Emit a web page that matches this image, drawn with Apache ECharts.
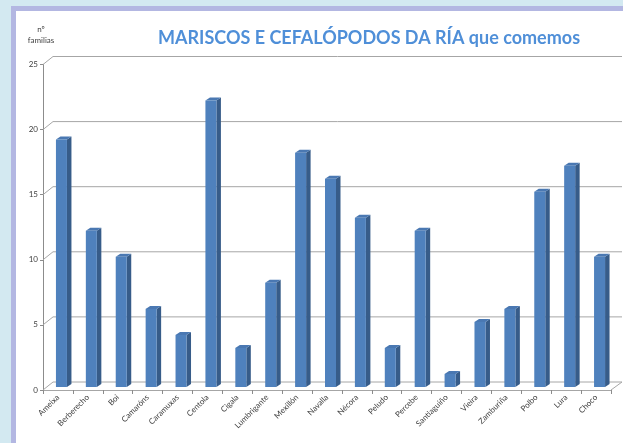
<!DOCTYPE html>
<html>
<head>
<meta charset="utf-8">
<script src="https://cdn.jsdelivr.net/npm/echarts@6/dist/echarts.min.js"></script>
<style>
  html, body { margin:0; padding:0; width:623px; height:443px; overflow:hidden; background:#d3e9f1; }
  #frame { position:absolute; left:11px; top:6px; width:612px; height:437px; background:#b3b7e2; }
  #inner { position:absolute; left:16px; top:11px; width:607px; height:432px; background:#ffffff; }
  #chart { position:absolute; left:0; top:0; width:623px; height:443px; }
</style>
</head>
<body>
<div id="frame"></div>
<div id="inner"></div>
<div id="chart"></div>
<script>
const categories = ["Ameixa","Berberecho","Boi","Camaróns","Caramuxas","Centola","Cigala","Lumbrigante","Mexillón","Navalla","Nécora","Peludo","Percebe","Santiaguiño","Vieira","Zamburiña","Polbo","Lura","Choco"];
const values = [19,12,10,6,4,22,3,8,18,16,13,3,12,1,5,6,15,17,10];
const yTicks = [0,5,10,15,20,25];
const titleText = "MARISCOS E CEFALÓPODOS DA RÍA que comemos";
const yAxisName = "nº\nfamilias";

const FONT = "Lato, 'Open Sans', sans-serif";
const chart = echarts.init(document.getElementById('chart'), null, {renderer:'canvas'});

const DEPTH_X = 10, DEPTH_Y = -8;

function renderGrid(params, api) {
  const cs = params.coordSys;
  const v = api.value(1);
  const y = api.coord([0, v])[1];
  const left = cs.x, right = cs.x + cs.width;
  const children = [{
    type:'polyline',
    shape:{points:[[left, y],[left+DEPTH_X, y+DEPTH_Y],[right+DEPTH_X+1, y+DEPTH_Y]]},
    style:{stroke:'#a6a6a6', lineWidth:1, fill:null}
  }];
  if (v === 0) {
    children.push({
      type:'line',
      shape:{x1:right, y1:y, x2:right+DEPTH_X+1, y2:y+DEPTH_Y},
      style:{stroke:'#a6a6a6', lineWidth:1}
    });
  }
  return {type:'group', children};
}

function renderBar(params, api) {
  const idx = api.value(0);
  const v = api.value(1);
  const base = api.coord([idx, 0]);
  const top = api.coord([idx, v]);
  const w = 11, sx = 4.5, sy = -3, off = -3;
  const x = base[0] - 2;
  const yb = base[1] + off;
  const yt = top[1] + off;
  return {
    type:'group',
    children:[
      {type:'polygon', shape:{points:[[x+w, yt],[x+w+sx, yt+sy],[x+w+sx, yb+sy],[x+w, yb]]}, style:{fill:'#375c89'}},
      {type:'polygon', shape:{points:[[x, yt],[x+sx, yt+sy],[x+w+sx, yt+sy],[x+w, yt]]}, style:{fill:'#4a78b2'}},
      {type:'rect', shape:{x:x, y:yt, width:w, height:yb-yt}, style:{fill:'#4f81bd'}}
    ]
  };
}

const option = {
  animation:false,
  backgroundColor:'transparent',
  title:[{
    text: titleText,
    left: 364, top: 24, textAlign:'center',
    textStyle:{fontFamily:FONT, fontSize:18, fontWeight:'bold', color:'#4f8fd8'}
  },{
    text: yAxisName,
    left: 36, top: 19, textAlign:'center',
    textStyle:{fontFamily:FONT, fontSize:8, fontWeight:'normal', color:'#404040', lineHeight:11, align:'center'}
  }],
  grid:{left:43, right:12, top:64.5, bottom:53, containLabel:false},
  xAxis:{
    type:'category',
    data: categories,
    boundaryGap:true,
    axisLine:{show:true, lineStyle:{color:'#a6a6a6', width:1}},
    axisTick:{show:true, length:4, alignWithLabel:false, lineStyle:{color:'#8c8c8c'}},
    axisLabel:{rotate:45, interval:0, margin:6, fontFamily:FONT, fontSize:8, color:'#404040'}
  },
  yAxis:{
    type:'value', min:0, max:25, interval:5,
    axisLine:{show:true, lineStyle:{color:'#8c8c8c', width:1}},
    axisTick:{show:true, length:3, lineStyle:{color:'#8c8c8c'}},
    axisLabel:{margin:5, fontFamily:FONT, fontSize:8, color:'#404040'},
    splitLine:{show:false}
  },
  series:[
    {
      type:'custom', name:'grid', z:1, clip:false, silent:true,
      renderItem: renderGrid,
      data: yTicks.map(t => [0, t]),
      encode:{x:0, y:1}
    },
    {
      type:'custom', name:'nº familias', z:3, clip:false,
      renderItem: renderBar,
      data: values.map((v, i) => [i, v]),
      encode:{x:0, y:1}
    }
  ]
};
chart.setOption(option);
</script>
</body>
</html>
